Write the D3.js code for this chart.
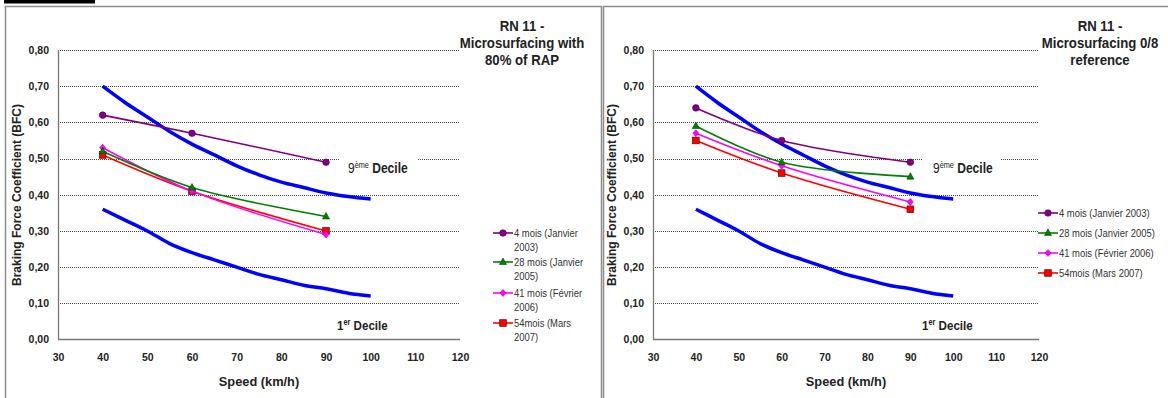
<!DOCTYPE html>
<html>
<head>
<meta charset="utf-8">
<script src="https://d3js.org/d3.v7.min.js"></script>
<style>
  body { margin: 0; background: #fff; }
  svg text { font-family: "Liberation Sans", Arial, sans-serif; }
</style>
</head>
<body>
<div id="chart"></div>
<script>
// speeds where the measurements were taken
var speeds = [40, 60, 90];

// decile reference curves
var decileSpeeds = [40, 45, 50, 55, 60, 65, 70, 75, 80, 85, 90, 95, 100];
var decile9 = [0.70, 0.655, 0.615, 0.575, 0.54, 0.51, 0.48, 0.455, 0.435, 0.42, 0.405, 0.395, 0.388];
var decile1 = [0.36, 0.33, 0.30, 0.265, 0.24, 0.22, 0.20, 0.18, 0.165, 0.15, 0.14, 0.128, 0.12];

var seriesNames = ["4 mois (Janvier 2003)", "28 mois (Janvier 2005)", "41 mois (Février 2006)", "54mois (Mars 2007)"];
var seriesNamesWrapped = [["4 mois (Janvier", "2003)"], ["28 mois (Janvier", "2005)"], ["41 mois (Février", "2006)"], ["54mois (Mars", "2007)"]];
var seriesColors = ["#800080", "#008000", "#ff00ff", "#ff0000"];
var seriesMarkers = ["circle", "triangle", "diamond", "square"];

// left chart : microsurfacing with 80% of RAP
var leftTitle = ["RN 11 -", "Microsurfacing with", "80% of RAP"];
var left4 = [0.62, 0.57, 0.49];
var left28 = [0.52, 0.42, 0.34];
var left41 = [0.53, 0.41, 0.29];
var left54 = [0.51, 0.41, 0.30];

// right chart : microsurfacing 0/8 reference
var rightTitle = ["RN 11 -", "Microsurfacing 0/8", "reference"];
var right4 = [0.64, 0.55, 0.49];
var right28 = [0.59, 0.49, 0.45];
var right41 = [0.57, 0.48, 0.38];
var right54 = [0.55, 0.46, 0.36];

var xTicks = [30, 40, 50, 60, 70, 80, 90, 100, 110, 120];
var yTicks = [0, 0.1, 0.2, 0.3, 0.4, 0.5, 0.6, 0.7, 0.8];

var svgWidth = 1168;
var svgHeight = 398;

var svg = d3.select("#chart").append("svg")
    .attr("width", svgWidth)
    .attr("height", svgHeight);

// frames around the two pictures
var frameColor = "#8c8c8c";
svg.append("rect").attr("x", 4).attr("y", 0).attr("width", 91).attr("height", 3.5).attr("fill", "#000");
svg.append("path").attr("d", "M5.5,398V6.5H601.5V398").attr("fill", "none").attr("stroke", frameColor).attr("stroke-width", 1.5);
svg.append("path").attr("d", "M603.5,398V6.5H1168").attr("fill", "none").attr("stroke", frameColor).attr("stroke-width", 1.5);

function fmt(v) {
    return d3.format(".2f")(v).replace(".", ",");
}

// condensed text: the original uses a narrow font, so squeeze Liberation Sans
function narrowText(parent, x, y, size, weight, anchor, sx) {
    return parent.append("g")
        .attr("transform", `translate(${x},${y}) scale(${sx},1)`)
        .append("text")
        .attr("text-anchor", anchor)
        .attr("font-size", size + "px")
        .attr("font-weight", weight)
        .attr("fill", "#222");
}

function drawMarker(g, type, x, y, color) {
    if (type === "circle") {
        g.append("circle").attr("cx", x).attr("cy", y).attr("r", 3.3)
            .attr("fill", color).attr("stroke", "#4a004a").attr("stroke-width", 0.6);
    } else if (type === "triangle") {
        g.append("path").attr("d", `M${x},${y - 4}L${x + 3.5},${y + 2.5}L${x - 3.5},${y + 2.5}Z`)
            .attr("fill", color).attr("stroke", "#004000").attr("stroke-width", 0.6);
    } else if (type === "diamond") {
        g.append("path").attr("d", `M${x},${y - 3.5}L${x + 3},${y}L${x},${y + 3.5}L${x - 3},${y}Z`)
            .attr("fill", color).attr("stroke", "#b000b0").attr("stroke-width", 0.6);
    } else {
        g.append("rect").attr("x", x - 3.3).attr("y", y - 3.3).attr("width", 6.6).attr("height", 6.6)
            .attr("fill", color).attr("stroke", "#600000").attr("stroke-width", 0.7);
    }
}

function drawPanel(opt) {
    var g = svg.append("g");

    var x = d3.scaleLinear().domain([30, 120]).range([opt.x0, opt.x1]);
    var y = d3.scaleLinear().domain([0, 0.8]).range([339.5, 50]);

    // gridlines
    g.selectAll(".grid").data(yTicks.filter(d => d > 0)).enter()
        .append("line")
        .attr("x1", opt.x0).attr("x2", opt.x1)
        .attr("y1", d => Math.round(y(d)) + 0.5).attr("y2", d => Math.round(y(d)) + 0.5)
        .attr("stroke", "#444").attr("stroke-width", 1).attr("stroke-dasharray", "1,1");

    // axes
    var leftAxis = d3.axisLeft(y).tickValues(yTicks).tickSize(0).tickPadding(9).tickFormat(fmt);
    var bottomAxis = d3.axisBottom(x).tickValues(xTicks).tickSize(0).tickPadding(13).tickFormat(d3.format("d"));

    var yAxis = g.append("g").attr("transform", `translate(${opt.x0},0)`).call(leftAxis);
    var xAxis = g.append("g").attr("transform", `translate(0,${Math.round(y(0)) + 0.5})`).call(bottomAxis);
    [xAxis, yAxis].forEach(function(a) {
        a.select(".domain").remove();
        a.selectAll("text").attr("font-size", "10.5px").attr("font-weight", "bold").attr("fill", "#222");
    });
    g.append("line").attr("x1", opt.x0 + 0.5).attr("x2", opt.x0 + 0.5).attr("y1", 50).attr("y2", 340)
        .attr("stroke", "#777").attr("stroke-width", 1.3);
    g.append("line").attr("x1", opt.x0).attr("x2", opt.x1).attr("y1", 339.5).attr("y2", 339.5)
        .attr("stroke", "#777").attr("stroke-width", 1.3);

    // axis titles
    g.append("text")
        .attr("transform", `translate(${opt.yTitleX},195) rotate(-90)`)
        .attr("text-anchor", "middle")
        .attr("font-size", "12px").attr("font-weight", "bold").attr("fill", "#222")
        .text("Braking Force Coefficient (BFC)");
    g.append("text")
        .attr("x", opt.xTitleX).attr("y", 386)
        .attr("text-anchor", "middle")
        .attr("font-size", "12.8px").attr("font-weight", "bold").attr("fill", "#222")
        .text("Speed (km/h)");

    // chart title
    opt.title.forEach(function(t, i) {
        narrowText(g, opt.titleX, 31 + i * 17, 15, "bold", "middle", 0.88).text(t);
    });

    // decile labels (white box hides the gridline behind)
    g.append("rect").attr("x", opt.gapX0).attr("y", 154).attr("width", opt.gapX1 - opt.gapX0).attr("height", 8).attr("fill", "#fff");
    var t9 = narrowText(g, opt.d9X, 173, 14, "normal", "start", 0.86);
    t9.append("tspan").text("9");
    t9.append("tspan").attr("dy", -5).attr("font-size", "8.5px").text("ème");
    t9.append("tspan").attr("dy", 5).attr("font-weight", "bold").text(" Decile");
    var t1 = narrowText(g, opt.d1X, 330, 13.5, "bold", "start", 0.86);
    t1.append("tspan").text("1");
    t1.append("tspan").attr("dy", -5).attr("font-size", "8.5px").text("er");
    t1.append("tspan").attr("dy", 5).text(" Decile");

    var smooth = d3.line()
        .x(d => x(d[0]))
        .y(d => y(d[1]))
        .curve(d3.curveCatmullRom);

    // decile curves
    [decile9, decile1].forEach(function(vals) {
        g.append("path")
            .datum(decileSpeeds.map((s, i) => [s, vals[i]]))
            .attr("d", smooth)
            .attr("fill", "none")
            .attr("stroke", "#0000ff")
            .attr("stroke-width", 3.5);
    });

    // measurement series, drawn from last to first like the original
    for (var k = opt.series.length - 1; k >= 0; k--) {
        var pts = speeds.map((s, i) => [s, opt.series[k][i]]);
        g.append("path")
            .datum(pts)
            .attr("d", smooth)
            .attr("fill", "none")
            .attr("stroke", seriesColors[k])
            .attr("stroke-width", 1.6);
        pts.forEach(function(p) {
            drawMarker(g, seriesMarkers[k], x(p[0]), y(p[1]), seriesColors[k]);
        });
    }

    // legend
    opt.legend.forEach(function(lines, i) {
        var ly = opt.legendY[i];
        g.append("line").attr("x1", opt.legendX).attr("x2", opt.legendX + 20)
            .attr("y1", ly).attr("y2", ly)
            .attr("stroke", seriesColors[i]).attr("stroke-width", 1.6);
        drawMarker(g, seriesMarkers[i], opt.legendX + 10, ly, seriesColors[i]);
        lines.forEach(function(l, j) {
            narrowText(g, opt.legendX + 21, ly + 4 + j * 13.5, 11.5, "normal", "start", 0.82)
                .attr("fill", "#333")
                .text(l);
        });
    });
}

drawPanel({
    x0: 58, x1: 460,
    yTitleX: 21, xTitleX: 259, titleX: 522,
    title: leftTitle,
    series: [left4, left28, left41, left54],
    gapX0: 340, gapX1: 418, d9X: 348, d1X: 337,
    legend: seriesNamesWrapped,
    legendX: 493, legendY: [233, 262, 293, 323]
});

drawPanel({
    x0: 653, x1: 1039,
    yTitleX: 616, xTitleX: 846, titleX: 1100,
    title: rightTitle,
    series: [right4, right28, right41, right54],
    gapX0: 923, gapX1: 1001, d9X: 933, d1X: 922,
    legend: seriesNames.map(s => [s]),
    legendX: 1038, legendY: [213, 233, 253, 273]
});
</script>
</body>
</html>
